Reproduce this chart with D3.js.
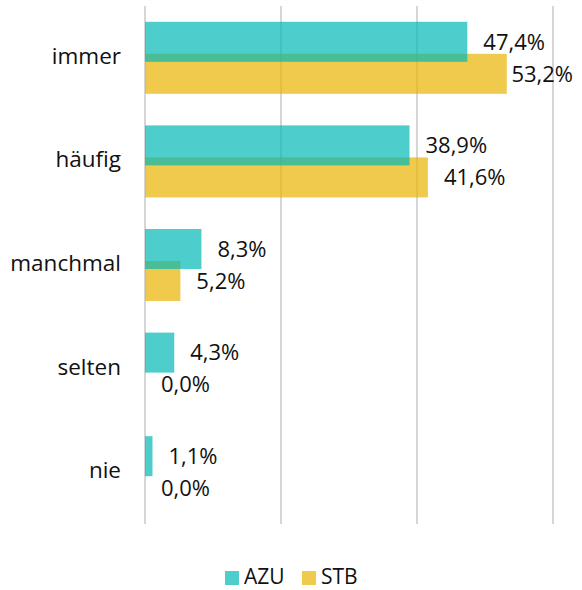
<!DOCTYPE html>
<html>
<head>
<meta charset="utf-8">
<script src="https://cdn.jsdelivr.net/npm/d3@7/dist/d3.min.js"></script>
<style>
html,body{margin:0;padding:0;background:#fff;}
svg text{font-family:"Open Sans","Noto Sans",sans-serif;fill:#111;}
</style>
</head>
<body>
<svg id="chart" width="582" height="590"></svg>
<script>
const categories = ["immer", "häufig", "manchmal", "selten", "nie"];
const seriesNames = ["AZU", "STB"];
const azuValues = [47.4, 38.9, 8.3, 4.3, 1.1];
const stbValues = [53.2, 41.6, 5.2, 0.0, 0.0];
const xTicks = [0, 20, 40, 60];
const colors = {AZU: "rgb(2,184,181)", STB: "rgb(234,179,2)"};

const svg = d3.select("#chart");
const margin = {left: 145, right: 29, top: 6, bottom: 66};
const W = 582, H = 590;

const x = d3.scaleLinear().domain([0, 60]).range([margin.left, W - margin.right]);
const y = d3.scaleBand().domain(categories).range([margin.top, H - margin.bottom]);

// gridlines
svg.append("g").selectAll("line").data(xTicks).join("line")
  .attr("x1", d => x(d)).attr("x2", d => x(d))
  .attr("y1", margin.top).attr("y2", H - margin.bottom)
  .attr("stroke", "#d6d6d6").attr("stroke-width", 2);

const barH = 40;
const fmt = v => d3.format(".1f")(v).replace(".", ",") + "%";

const series = [
  {name: "STB", values: stbValues, dy: -4},
  {name: "AZU", values: azuValues, dy: -36}
];

series.forEach(s => {
  const g = svg.append("g");
  g.selectAll("rect").data(categories).join("rect")
    .attr("x", x(0))
    .attr("y", d => y(d) + y.bandwidth() / 2 + s.dy)
    .attr("width", (d, i) => x(s.values[i]) - x(0))
    .attr("height", barH)
    .attr("fill", colors[s.name])
    .attr("fill-opacity", 0.7);
});

series.forEach(s => {
  svg.append("g").selectAll("text").data(categories).join("text")
    .attr("y", d => y(d) + y.bandwidth() / 2 + s.dy + barH / 2 + 2)
    .attr("dominant-baseline", "middle")
    .attr("font-size", 22)
    .text((d, i) => fmt(s.values[i]))
    .each(function(d, i) {
      const w = this.getComputedTextLength();
      const px = Math.min(x(s.values[i]) + 16, W - 9 - w);
      d3.select(this).attr("x", px);
    });
});

// category labels
svg.append("g").selectAll("text").data(categories).join("text")
  .attr("x", 121)
  .attr("y", d => y(d) + y.bandwidth() / 2)
  .attr("text-anchor", "end")
  .attr("dominant-baseline", "middle")
  .attr("font-size", 22.5)
  .text(d => d);

// legend
const legend = svg.append("g");
const legendItems = [{name: "AZU", x: 225}, {name: "STB", x: 302}];
legendItems.forEach(it => {
  legend.append("rect").attr("x", it.x).attr("y", 571).attr("width", 14).attr("height", 14)
    .attr("fill", colors[it.name]).attr("fill-opacity", 0.7);
  legend.append("text").attr("x", it.x + 19).attr("y", 578.5)
    .attr("dominant-baseline", "middle").attr("font-size", 21).text(it.name);
});
</script>
</body>
</html>
